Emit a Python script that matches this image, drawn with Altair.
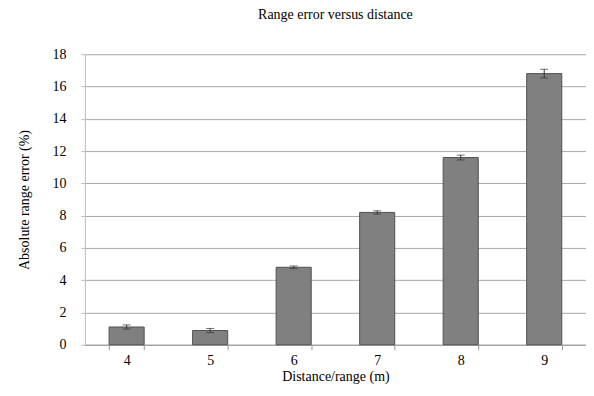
import altair as alt
import pandas as pd

distances = ["4", "5", "6", "7", "8", "9"]
errors = [1.1, 0.88, 4.8, 8.2, 11.6, 16.8]
err_bars = [0.13, 0.13, 0.08, 0.1, 0.15, 0.27]
y_ticks = [0, 2, 4, 6, 8, 10, 12, 14, 16, 18]

df = pd.DataFrame({"d": distances, "v": errors, "e": err_bars})
df["lo"] = df["v"] - df["e"]
df["hi"] = df["v"] + df["e"]

FONT = "Liberation Serif"
YTITLE = "Absolute range error (%)"

x = alt.X("d:N", title="Distance/range (m)",
          scale=alt.Scale(paddingInner=0.58, paddingOuter=0.29),
          axis=alt.Axis(labelAngle=0, tickBand="extent", domainColor="#999999",
                        tickColor="#999999", tickSize=5, labelPadding=4, titlePadding=2,
                        labelFont=FONT, titleFont=FONT, titleFontWeight="normal",
                        labelFontSize=14, titleFontSize=14, labelColor="#000000",
                        titleColor="#000000"))

y_axis = alt.Axis(values=y_ticks, tickCount=10, gridColor="#a8a8a8",
                  domainColor="#bbbbbb", tickColor="#bbbbbb", tickSize=4,
                  labelPadding=15, titlePadding=20, labelOverlap=False,
                  labelFont=FONT, titleFont=FONT, titleFontWeight="normal",
                  labelFontSize=14, titleFontSize=14, labelColor="#000000",
                  titleColor="#000000")
y_scale = alt.Scale(domain=[0, 18], nice=False)

bars = alt.Chart(df).mark_bar(color="#808080", stroke="#505050", strokeWidth=1).encode(
    x=x,
    y=alt.Y("v:Q", title=YTITLE, scale=y_scale, axis=y_axis),
)

errs = alt.Chart(df).mark_errorbar(ticks=alt.MarkConfig(size=8, color="#333333"), color="#333333").encode(
    x="d:N",
    y=alt.Y("lo:Q", title=YTITLE, scale=y_scale, axis=y_axis),
    y2="hi:Q",
)

chart = (bars + errs).properties(
    width=502, height=291,
    title=alt.TitleParams("Range error versus distance", fontSize=14, fontWeight="normal", font=FONT,
                          offset=25, color="#000000"),
    autosize=alt.AutoSizeParams(type="none"),
    padding={"left": 77, "top": 46, "right": 0, "bottom": 43},
).configure(font=FONT).configure_view(stroke=None)

chart.save("out.html", embed_options={"renderer": "svg", "actions": False})
